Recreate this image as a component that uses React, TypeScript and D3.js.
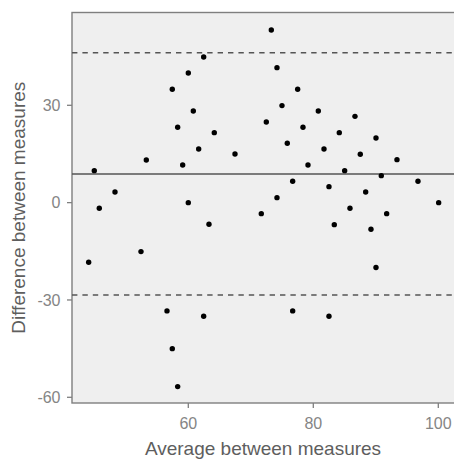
import React from "react";
import * as d3 from "d3";

const avgValues = [
  62.46, 60.0, 57.44, 60.8, 58.3, 64.16, 61.66, 53.28, 59.1, 44.96, 48.27, 45.76, 60.0, 63.31,
  73.28, 74.19, 77.5, 74.99, 80.8, 86.67, 72.48, 78.35, 84.16, 90.03, 75.84, 81.71, 87.52, 67.47,
  93.39, 79.15, 85.02, 90.88, 76.7, 96.75, 82.51, 88.38, 74.19, 100.06, 85.87, 71.68, 91.74, 83.36,
  89.23, 52.43, 44.06, 56.59, 62.46, 57.44, 58.3, 90.03, 76.7, 82.51,
];
const diffValues = [
  44.9, 39.97, 34.95, 28.26, 23.24, 21.57, 16.55, 13.16, 11.62, 9.86, 3.3, -1.73, 0, -6.66,
  53.2, 41.6, 34.95, 29.9, 28.26, 26.6, 24.87, 23.24, 21.57, 19.94, 18.3, 16.55, 14.92, 15.0,
  13.25, 11.62, 9.86, 8.32, 6.6, 6.6, 4.93, 3.3, 1.54, 0, -1.73, -3.39, -3.39, -6.78,
  -8.2, -15.1, -18.37, -33.37, -35.0, -45.0, -56.7, -20.0, -33.37, -35.0,
];
const meanDiff = 8.84;
const upperLimit = 46.2;
const lowerLimit = -28.5;
const xTicks = [60, 80, 100];
const yTicks = [-60, -30, 0, 30];
const xTitle = "Average between measures";
const yTitle = "Difference between measures";

export default function App() {
  const W = 454, H = 460;
  const left = 72, right = 454, top = 12.5, bottom = 403;
  const x = d3.scaleLinear().domain([60, 100]).range([188.3, 438.3]);
  const y = d3.scaleLinear().domain([-60, 30]).range([397.3, 105.3]);
  const grey = "#7f7f7f";
  const tickGrey = "#858585";
  const titleGrey = "#5e5e5e";
  const font = "Liberation Sans, Arial, sans-serif";
  return (
    <svg width={W} height={H} style={{ position: "absolute", left: 0, top: 0 }}>
      <rect x={0} y={0} width={W} height={H} fill="#ffffff" />
      <rect x={left} y={top} width={right - left + 10} height={bottom - top} fill="#efefef" stroke={grey} strokeWidth={1.4} />
      <line x1={left} x2={right} y1={y(meanDiff)} y2={y(meanDiff)} stroke="#555" strokeWidth={1.4} />
      <line x1={left} x2={right} y1={y(upperLimit)} y2={y(upperLimit)} stroke="#555" strokeWidth={1.5} strokeDasharray="5.4,5" />
      <line x1={left} x2={right} y1={y(lowerLimit)} y2={y(lowerLimit)} stroke="#555" strokeWidth={1.5} strokeDasharray="5.4,5" />
      {avgValues.map((a, i) => (
        <circle key={i} cx={x(a)} cy={y(diffValues[i])} r={2.7} fill="#000" />
      ))}
      {xTicks.map((t) => (
        <g key={"x" + t}>
          <line x1={x(t)} x2={x(t)} y1={bottom} y2={bottom + 5} stroke={grey} strokeWidth={1.3} />
          <text x={x(t)} y={428.5} textAnchor="middle" fontFamily={font} fontSize={16} fill={tickGrey}>{t}</text>
        </g>
      ))}
      {yTicks.map((t) => (
        <g key={"y" + t}>
          <line x1={left - 5} x2={left} y1={y(t)} y2={y(t)} stroke={grey} strokeWidth={1.3} />
          <text x={60.5} y={y(t)} dy="0.36em" textAnchor="end" fontFamily={font} fontSize={16} fill={tickGrey}>{t}</text>
        </g>
      ))}
      <text x={(left + right) / 2} y={455} textAnchor="middle" fontFamily={font} fontSize={19} fill={titleGrey}>{xTitle}</text>
      <text transform={`translate(25,${(top + bottom) / 2}) rotate(-90)`} textAnchor="middle" fontFamily={font} fontSize={19} fill={titleGrey}>{yTitle}</text>
    </svg>
  );
}
